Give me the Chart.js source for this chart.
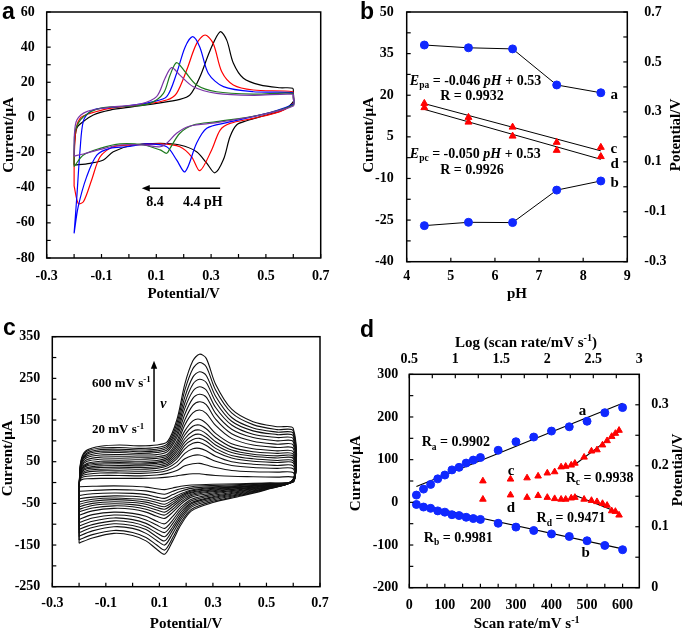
<!DOCTYPE html>
<html>
<head>
<meta charset="utf-8">
<script src="https://cdn.jsdelivr.net/npm/chart.js@4.4.1/dist/chart.umd.min.js"></script>
<style>
  html, body { margin: 0; padding: 0; background: #fff; }
  #wrap { position: relative; width: 685px; height: 629px; overflow: hidden; }
  canvas { position: absolute; }
</style>
</head>
<body>
<div id="wrap">
  <canvas id="cvA" width="340" height="310" style="left:0;top:0"></canvas>
  <canvas id="cvB" width="345" height="310" style="left:340px;top:0"></canvas>
  <canvas id="cvC" width="340" height="319" style="left:0;top:310px"></canvas>
  <canvas id="cvD" width="345" height="319" style="left:340px;top:310px"></canvas>
</div>
<script>
// ---- panel a: CVs at different pH, [potential / V, current / uA]
const cvPH44 = [[-0.2,-27],[-0.198,-14],[-0.19,-6],[-0.172,-3],[-0.13,1.4],[-0.069,4.2],[0.016,6.1],[0.101,8],[0.186,10.3],[0.223,12.8],[0.259,23],[0.296,38],[0.333,48.8],[0.357,44],[0.381,31],[0.418,22.3],[0.478,18.5],[0.551,16.9],[0.598,16.6],[0.6,14],[0.6,9],[0.563,4.2],[0.503,1.4],[0.43,-1.9],[0.393,-4.3],[0.369,-11],[0.345,-24],[0.314,-31.5],[0.284,-26],[0.247,-19.5],[0.186,-15.7],[0.114,-14.7],[0.016,-15.7],[-0.057,-19.5],[-0.093,-24.2],[-0.142,-26.1],[-0.19,-27],[-0.2,-27]];
const cvPH54 = [[-0.2,-39],[-0.199,-20],[-0.192,-6],[-0.175,0],[-0.142,2.3],[-0.069,5.2],[0.041,7.1],[0.138,9.9],[0.174,13.7],[0.211,27],[0.247,42],[0.278,46.9],[0.308,42],[0.339,26],[0.381,18.5],[0.454,15.6],[0.598,14.6],[0.6,12],[0.6,8],[0.551,3.3],[0.454,-0.5],[0.369,-3.4],[0.333,-7.2],[0.302,-18.5],[0.259,-30.3],[0.229,-22.4],[0.186,-16.7],[0.114,-15.1],[0.016,-15.7],[-0.057,-16.7],[-0.105,-22.4],[-0.136,-35.6],[-0.166,-48],[-0.185,-48.9],[-0.2,-39]];
const cvPH64 = [[-0.2,-66],[-0.19,-45],[-0.178,-18],[-0.166,-2],[-0.14,3.5],[-0.105,5.2],[-0.008,6.5],[0.089,9],[0.138,11.8],[0.174,25],[0.205,40],[0.233,46],[0.259,40],[0.29,25],[0.345,17.5],[0.454,14.6],[0.598,14.1],[0.6,12],[0.6,7.6],[0.503,2.3],[0.357,-3],[0.284,-6.2],[0.247,-14.7],[0.205,-30.9],[0.174,-24.2],[0.138,-16.7],[0.065,-15.1],[-0.008,-16.7],[-0.069,-17.6],[-0.117,-21.4],[-0.154,-33.7],[-0.185,-50.8],[-0.2,-66]];
const cvPH74 = [[-0.2,-28],[-0.199,-15],[-0.195,-7],[-0.166,0.4],[-0.105,5.2],[0.016,6.5],[0.077,8],[0.126,13.7],[0.15,24],[0.174,31.2],[0.205,26],[0.247,18.5],[0.32,14.6],[0.454,13.3],[0.598,13.7],[0.6,11],[0.6,7.1],[0.478,1.4],[0.32,-2.4],[0.235,-4.3],[0.186,-9],[0.15,-17.6],[0.138,-20.4],[0.114,-18.5],[0.053,-15.7],[-0.032,-15.1],[-0.105,-17.6],[-0.166,-21.4],[-0.2,-28]];
const cvPH84 = [[-0.2,-22],[-0.199,-10],[-0.19,-1.5],[-0.154,3.3],[-0.069,5.8],[0.041,7.6],[0.101,11.8],[0.132,22.3],[0.156,28.3],[0.186,24.1],[0.235,17.5],[0.32,13.7],[0.454,12.6],[0.598,13.2],[0.6,11],[0.6,6.5],[0.478,1.4],[0.32,-3],[0.223,-4.9],[0.174,-9],[0.138,-14.7],[0.114,-16.7],[0.053,-15.7],[-0.032,-15.7],[-0.105,-18.2],[-0.166,-20.8],[-0.2,-22]];

// ---- panel b: peak current and potential vs pH
const phValues = [4.4, 5.4, 6.4, 7.4, 8.4];
const ipaPH = [38.1, 37.1, 36.7, 23.7, 20.9];
const ipcPH = [-27, -25.8, -25.9, -14.2, -10.9];
const epaPH = [0.334, 0.278, 0.239, 0.178, 0.158];
const epcPH = [0.317, 0.259, 0.203, 0.146, 0.121];
const phFitX = [4.4, 8.4];
const epaFitPH = [0.333, 0.144];
const epcFitPH = [0.31, 0.11];

// ---- panel c: CVs at scan rates 20..600 mV/s
const cFwdPotential = [-0.2, -0.198, -0.19, -0.17, -0.12, -0.05, 0.03, 0.09, 0.13, 0.165, 0.195, 0.225, 0.25, 0.275, 0.31, 0.37, 0.45, 0.54, 0.6];
const cRevPotential = [0.6, 0.5, 0.4, 0.3, 0.22, 0.18, 0.15, 0.12, 0.09, 0.05, 0, -0.07, -0.15, -0.198, -0.2];
const cFwdCurrent = [
  [-10, 2, 7, 9, 10, 10, 10, 11, 13, 16, 19, 21, 21, 19, 17, 15, 14, 13, 13],
  [-22, 4, 12, 15, 17, 17, 16, 18, 22, 29, 40, 45, 46, 42, 36, 29, 26, 25, 24],
  [-32, 5, 16, 20, 23, 23, 22, 24, 29, 40, 57, 65, 66, 61, 51, 41, 36, 34, 33],
  [-40, 6, 19, 25, 28, 28, 27, 29, 35, 49, 70, 81, 82, 76, 63, 50, 44, 41, 40],
  [-48, 7, 22, 29, 32, 33, 32, 34, 40, 57, 81, 94, 96, 89, 74, 59, 51, 48, 47],
  [-54, 8, 25, 33, 36, 37, 36, 38, 44, 62, 89, 103, 106, 99, 82, 65, 57, 53, 52],
  [-60, 9, 28, 36, 40, 41, 40, 42, 48, 68, 97, 113, 116, 108, 90, 72, 63, 59, 58],
  [-66, 10, 31, 40, 44, 45, 44, 46, 52, 74, 105, 123, 126, 117, 98, 78, 68, 64, 63],
  [-72, 11, 33, 43, 47, 48, 47, 49, 56, 80, 114, 135, 138, 129, 108, 85, 74, 70, 68],
  [-80, 12, 35, 46, 51, 52, 51, 53, 60, 86, 124, 148, 152, 142, 118, 93, 81, 76, 74],
  [-90, 13, 39, 51, 56, 57, 56, 58, 64, 92, 138, 167, 174, 166, 137, 106, 90, 84, 82],
  [-98, 14, 42, 55, 61, 62, 61, 62, 68, 99, 150, 185, 194, 187, 152, 117, 99, 92, 90],
  [-106, 15, 46, 60, 66, 67, 66, 67, 74, 108, 164, 202, 212, 205, 166, 128, 108, 100, 98],
  [-114, 16, 49, 64, 71, 72, 70, 72, 79, 116, 178, 219, 230, 222, 180, 138, 116, 108, 105],
  [-122, 17, 52, 68, 75, 76, 74, 76, 84, 124, 191, 236, 248, 240, 194, 147, 124, 115, 112],
  [-130, 18, 54, 71, 79, 80, 78, 80, 88, 132, 205, 253, 266, 257, 207, 156, 131, 121, 118],
  [-138, 19, 57, 75, 83, 84, 82, 84, 93, 141, 221, 273, 288, 278, 222, 167, 139, 127, 124],
  [-146, 20, 60, 78, 87, 90, 88, 90, 98, 150, 236, 292, 308, 298, 236, 176, 146, 134, 130]
];
const cRevCurrent = [
  [1, -1, -3, -4, -6, -9, -13, -17, -15, -11, -9, -8, -9, -10, -10],
  [2, -2, -5, -7, -10, -15, -21, -28, -25, -20, -18, -17, -19, -21, -22],
  [2, -3, -7, -10, -14, -21, -29, -38, -35, -29, -26, -25, -27, -31, -32],
  [3, -4, -9, -12, -18, -27, -37, -45, -42, -36, -33, -32, -35, -39, -40],
  [3, -5, -10, -14, -20, -31, -42, -52, -48, -42, -39, -37, -40, -46, -48],
  [3, -6, -11, -16, -23, -34, -47, -58, -54, -47, -43, -41, -45, -52, -54],
  [3, -6, -12, -18, -25, -38, -52, -64, -60, -52, -48, -46, -50, -58, -60],
  [4, -7, -14, -20, -28, -42, -58, -71, -66, -58, -53, -51, -55, -64, -66],
  [4, -8, -15, -22, -31, -47, -64, -78, -73, -64, -58, -56, -61, -70, -72],
  [4, -9, -17, -25, -35, -52, -71, -86, -81, -71, -64, -62, -68, -78, -80],
  [5, -10, -19, -28, -40, -59, -81, -99, -93, -81, -74, -71, -77, -88, -90],
  [5, -11, -21, -31, -44, -65, -90, -110, -102, -90, -81, -78, -85, -96, -98],
  [6, -12, -23, -34, -48, -71, -98, -120, -112, -98, -89, -85, -93, -104, -106],
  [6, -13, -25, -36, -51, -77, -106, -130, -121, -106, -96, -92, -101, -112, -114],
  [7, -14, -27, -39, -55, -83, -113, -140, -130, -113, -103, -99, -108, -120, -122],
  [7, -15, -29, -42, -59, -89, -122, -150, -139, -122, -110, -106, -116, -128, -130],
  [8, -16, -31, -45, -64, -96, -132, -162, -150, -132, -120, -115, -125, -137, -138],
  [8, -17, -33, -48, -68, -102, -140, -172, -160, -140, -127, -122, -133, -145, -146]
];

// ---- panel d: peak current vs scan rate, peak potential vs log(scan rate)
const scanRates = [20, 40, 60, 80, 100, 120, 140, 160, 180, 200, 250, 300, 350, 400, 450, 500, 550, 600];
const logScanRates = [1.30, 1.60, 1.78, 1.90, 2.00, 2.08, 2.15, 2.20, 2.26, 2.30, 2.40, 2.48, 2.54, 2.60, 2.65, 2.70, 2.74, 2.78];
const ipaRate = [17, 31, 42, 55, 64, 76, 82, 92, 99, 105, 122, 142, 153, 167, 177, 190, 210, 222];
const ipcRate = [-5, -11, -14, -20, -23, -29, -31, -35, -38, -40, -49, -58, -66, -74, -80, -90, -101, -111];
const epaRate = [0.175, 0.178, 0.180, 0.183, 0.188, 0.190, 0.198, 0.199, 0.201, 0.204, 0.214, 0.224, 0.226, 0.234, 0.241, 0.248, 0.253, 0.258];
const epcRate = [0.145, 0.152, 0.148, 0.151, 0.148, 0.146, 0.145, 0.145, 0.147, 0.148, 0.145, 0.143, 0.141, 0.138, 0.135, 0.126, 0.125, 0.119];
const rateFitX = [20, 600];
const ipaFit = [37, 232];
const ipcFit = [-4, -109];
const logFitXc = [2.30, 2.80];
const epaFitLog = [0.202, 0.2585];
const logFitXd = [2.30, 2.78];
const epcFitLog = [0.1515, 0.123];

const SERIF = '"Liberation Serif", "Times New Roman", serif';
const TICK_FONT = { family: SERIF, size: 14, weight: 'bold' };
const BLUE = '#1028ff';
const RED = '#ff0000';

Chart.defaults.animation = false;
Chart.defaults.events = [];
Chart.defaults.color = '#000';
Chart.defaults.plugins.legend.display = false;
Chart.defaults.plugins.tooltip.enabled = false;

const pairs = arr => arr.map(([x, y]) => ({ x, y }));
const zip = (xs, ys) => xs.map((x, i) => ({ x, y: ys[i] }));

function drawRich(ctx, parts, x, y, size, align) {
  const fontFor = k => {
    const s = (k === 'b' || k === 'p') ? size * 0.68 : size;
    return (k === 'i' ? 'italic ' : '') + 'bold ' + s + 'px ' + SERIF;
  };
  let w = 0;
  parts.forEach(([t, k]) => { ctx.font = fontFor(k); w += ctx.measureText(t).width; });
  let cx = align === 'center' ? x - w / 2 : (align === 'right' ? x - w : x);
  ctx.textAlign = 'left';
  ctx.textBaseline = 'alphabetic';
  ctx.fillStyle = '#000';
  const base = y + size * 0.33;
  parts.forEach(([t, k]) => {
    ctx.font = fontFor(k);
    const dy = k === 'b' ? size * 0.25 : (k === 'p' ? -size * 0.38 : 0);
    ctx.fillText(t, cx, base + dy);
    cx += ctx.measureText(t).width;
  });
}

function drawTitle(ctx, parts, x, y, rotate) {
  ctx.save();
  ctx.translate(x, y);
  if (rotate) ctx.rotate(-Math.PI / 2);
  drawRich(ctx, parts, 0, 0, 15, 'center');
  ctx.restore();
}

function drawLetter(ctx, t, x, y) {
  ctx.save();
  ctx.font = 'bold 23px "Liberation Sans", Arial, sans-serif';
  ctx.fillStyle = '#000';
  ctx.textAlign = 'left';
  ctx.textBaseline = 'alphabetic';
  ctx.fillText(t, x, y);
  ctx.restore();
}

function drawArrow(ctx, x1, y1, x2, y2) {
  const ang = Math.atan2(y2 - y1, x2 - x1);
  ctx.save();
  ctx.strokeStyle = '#000';
  ctx.fillStyle = '#000';
  ctx.lineWidth = 1.5;
  ctx.beginPath();
  ctx.moveTo(x1, y1);
  ctx.lineTo(x2 - 6 * Math.cos(ang), y2 - 6 * Math.sin(ang));
  ctx.stroke();
  ctx.beginPath();
  ctx.moveTo(x2, y2);
  ctx.lineTo(x2 - 8 * Math.cos(ang) + 3.2 * Math.sin(ang), y2 - 8 * Math.sin(ang) - 3.2 * Math.cos(ang));
  ctx.lineTo(x2 - 8 * Math.cos(ang) - 3.2 * Math.sin(ang), y2 - 8 * Math.sin(ang) + 3.2 * Math.cos(ang));
  ctx.closePath();
  ctx.fill();
  ctx.restore();
}

// box around the plot plus inward tick marks (majors and midpoints)
const framePlugin = {
  id: 'frame',
  afterDatasetsDraw(chart, args, opts) {
    const { ctx, chartArea: a } = chart;
    const minor = opts.minor || [];
    ctx.save();
    ctx.strokeStyle = '#000';
    ctx.lineWidth = 1.5;
    ctx.strokeRect(a.left, a.top, a.right - a.left, a.bottom - a.top);
    ctx.lineWidth = 1.2;
    Object.values(chart.scales).forEach(scale => {
      const majors = scale.ticks.map(t => t.value);
      const vals = majors.slice();
      if (minor.includes(scale.id)) {
        for (let i = 0; i < majors.length - 1; i++) vals.push((majors[i] + majors[i + 1]) / 2);
      }
      vals.forEach(v => {
        const p = scale.getPixelForValue(v);
        const L = 4;
        ctx.beginPath();
        if (scale.position === 'left') { ctx.moveTo(a.left, p); ctx.lineTo(a.left + L, p); }
        else if (scale.position === 'right') { ctx.moveTo(a.right, p); ctx.lineTo(a.right - L, p); }
        else if (scale.position === 'top') { ctx.moveTo(p, a.top); ctx.lineTo(p, a.top + L); }
        else { ctx.moveTo(p, a.bottom); ctx.lineTo(p, a.bottom - L); }
        ctx.stroke();
      });
    });
    ctx.restore();
  }
};
Chart.register(framePlugin);

function axis(position, min, max, step, size, pad, fmt, tickExtra) {
  const vertical = position === 'left' || position === 'right';
  return {
    type: 'linear',
    position,
    min,
    max,
    grid: { display: false, drawTicks: false },
    border: { display: false },
    ticks: Object.assign({
      stepSize: step, padding: pad, color: '#000', font: TICK_FONT,
      autoSkip: false, maxRotation: 0, callback: fmt
    }, tickExtra || {}),
    afterFit: s => {
      if (vertical) s.width = size; else s.height = size;
      // the plot box is fixed by hand, so label overhang must not push it
      s.paddingTop = 0; s.paddingBottom = 0; s.paddingLeft = 0; s.paddingRight = 0;
    }
  };
}

const fmt1 = v => v.toFixed(1);
const fmtInt = v => String(Math.round(v));
const fmtShort = v => String(+v.toFixed(2));

function cvLine(data, color, width, tension) {
  return { data, showLine: true, borderColor: color, borderWidth: width, pointRadius: 0, tension, fill: false };
}

// ================= panel a =================
new Chart(document.getElementById('cvA'), {
  type: 'scatter',
  data: {
    datasets: [
      cvLine(pairs(cvPH84), '#7a35a8', 1.2, 0.3),
      cvLine(pairs(cvPH74), '#1e7a1e', 1.2, 0.3),
      cvLine(pairs(cvPH64), '#0000ff', 1.2, 0.3),
      cvLine(pairs(cvPH54), '#ff0000', 1.2, 0.3),
      cvLine(pairs(cvPH44), '#000000', 1.2, 0.3)
    ]
  },
  options: {
    responsive: false,
    layout: { padding: { top: 12, right: 19.3, left: 0, bottom: 0 } },
    scales: {
      x: axis('bottom', -0.3, 0.7, 0.2, 52, 9.6, fmt1),
      y: axis('left', -80, 60, 20, 46.7, 12, fmtInt)
    },
    plugins: { frame: { minor: ['x', 'y'] } }
  },
  plugins: [{
    id: 'notesA',
    afterDraw(chart) {
      const { ctx, scales: { x, y } } = chart;
      drawArrow(ctx, x.getPixelForValue(0.333), y.getPixelForValue(-40.3), x.getPixelForValue(0.047), y.getPixelForValue(-40.3));
      drawRich(ctx, [['8.4']], x.getPixelForValue(0.095), y.getPixelForValue(-48), 14, 'center');
      drawRich(ctx, [['4.4']], x.getPixelForValue(0.229), y.getPixelForValue(-48), 14, 'center');
      drawRich(ctx, [['pH']], x.getPixelForValue(0.308), y.getPixelForValue(-48), 14, 'center');
      drawTitle(ctx, [['Potential/V']], 183.7, 293, false);
      drawTitle(ctx, [['Current/μA']], 8, 135, true);
      drawLetter(ctx, 'a', 2, 19);
    }
  }]
});

// ================= panel b =================
new Chart(document.getElementById('cvB'), {
  type: 'scatter',
  data: {
    datasets: [
      { data: zip(phValues, epaPH), yAxisID: 'y2', showLine: false, pointStyle: 'triangle', pointRadius: 4, backgroundColor: RED, borderColor: RED },
      { data: zip(phValues, epcPH), yAxisID: 'y2', showLine: false, pointStyle: 'triangle', pointRadius: 4, backgroundColor: RED, borderColor: RED },
      { data: zip(phValues, ipaPH), yAxisID: 'y', showLine: true, borderColor: '#000', borderWidth: 1, pointRadius: 4, pointBackgroundColor: BLUE, pointBorderColor: BLUE },
      { data: zip(phValues, ipcPH), yAxisID: 'y', showLine: true, borderColor: '#000', borderWidth: 1, pointRadius: 4, pointBackgroundColor: BLUE, pointBorderColor: BLUE },
      { data: zip(phFitX, epaFitPH), yAxisID: 'y2', showLine: true, borderColor: '#000', borderWidth: 1, pointRadius: 0 },
      { data: zip(phFitX, epcFitPH), yAxisID: 'y2', showLine: true, borderColor: '#000', borderWidth: 1, pointRadius: 0 }
    ]
  },
  options: {
    responsive: false,
    layout: { padding: { top: 12, right: 0, left: 0, bottom: 0 } },
    scales: {
      x: axis('bottom', 4, 9, 1, 48.3, 6, fmtInt),
      y: axis('left', -40, 50, 15, 66.7, 13, fmtInt),
      y2: axis('right', -0.3, 0.7, 0.2, 57.7, 17, fmt1)
    },
    plugins: { frame: { minor: ['y', 'y2'] } }
  },
  plugins: [{
    id: 'notesB',
    afterDraw(chart) {
      const { ctx, scales: { x, y } } = chart;
      const px = v => x.getPixelForValue(v);
      const py = v => y.getPixelForValue(v);
      drawRich(ctx, [['a']], px(8.62), py(20.6), 15, 'left');
      drawRich(ctx, [['b']], px(8.62), py(-11.4), 15, 'left');
      drawRich(ctx, [['c']], px(8.62), py(0.8), 15, 'left');
      drawRich(ctx, [['d']], px(8.62), py(-4.3), 15, 'left');
      drawRich(ctx, [['E', 'i'], ['pa', 'b'], [' = -0.046 '], ['pH', 'i'], [' + 0.53']], px(4.07), py(25.5), 14, 'left');
      drawRich(ctx, [['R = 0.9932']], px(5.48), py(19.8), 14, 'center');
      drawRich(ctx, [['E', 'i'], ['pc', 'b'], [' = -0.050 '], ['pH', 'i'], [' + 0.53']], px(4.07), py(-0.9), 14, 'left');
      drawRich(ctx, [['R = 0.9926']], px(5.48), py(-6.7), 14, 'center');
      drawTitle(ctx, [['pH']], 177, 293, false);
      drawTitle(ctx, [['Current/μA']], 28.3, 135, true);
      drawTitle(ctx, [['Potential/V']], 335, 135, true);
      drawLetter(ctx, 'b', 20, 19);
    }
  }]
});

// ================= panel c =================
const cDatasets = cFwdCurrent.map((fwd, k) => cvLine(
  zip(cFwdPotential, fwd).concat(zip(cRevPotential, cRevCurrent[k])), '#111', 1.1, 0.3
));
new Chart(document.getElementById('cvC'), {
  type: 'scatter',
  data: { datasets: cDatasets },
  options: {
    responsive: false,
    layout: { padding: { top: 26.7, right: 20, left: 0, bottom: 0 } },
    scales: {
      x: axis('bottom', -0.3, 0.7, 0.2, 42.3, 8.2, fmt1),
      y: axis('left', -250, 350, 100, 52.3, 12, fmtInt)
    },
    plugins: { frame: { minor: ['x', 'y'] } }
  },
  plugins: [{
    id: 'notesC',
    afterDraw(chart) {
      const { ctx, scales: { x, y } } = chart;
      drawArrow(ctx, x.getPixelForValue(0.08), y.getPixelForValue(98), x.getPixelForValue(0.08), y.getPixelForValue(292));
      drawRich(ctx, [['600 mV s'], ['-1', 'p']], x.getPixelForValue(-0.152), y.getPixelForValue(240), 13, 'left');
      drawRich(ctx, [['20 mV s'], ['-1', 'p']], x.getPixelForValue(-0.152), y.getPixelForValue(128), 13, 'left');
      drawRich(ctx, [['v', 'i']], x.getPixelForValue(0.115), y.getPixelForValue(190), 14, 'center');
      drawTitle(ctx, [['Potential/V']], 186, 313.3, false);
      drawTitle(ctx, [['Current/μA']], 7.5, 148.3, true);
      drawLetter(ctx, 'c', 3, 25);
    }
  }]
});

// ================= panel d =================
new Chart(document.getElementById('cvD'), {
  type: 'scatter',
  data: {
    datasets: [
      { data: zip(scanRates, ipaRate), xAxisID: 'x', yAxisID: 'y', showLine: false, pointRadius: 4, backgroundColor: BLUE, borderColor: BLUE },
      { data: zip(scanRates, ipcRate), xAxisID: 'x', yAxisID: 'y', showLine: false, pointRadius: 4, backgroundColor: BLUE, borderColor: BLUE },
      { data: zip(logScanRates, epaRate), xAxisID: 'x2', yAxisID: 'y2', showLine: false, pointStyle: 'triangle', pointRadius: 3.8, backgroundColor: RED, borderColor: RED },
      { data: zip(logScanRates, epcRate), xAxisID: 'x2', yAxisID: 'y2', showLine: false, pointStyle: 'triangle', pointRadius: 3.8, backgroundColor: RED, borderColor: RED },
      { data: zip(rateFitX, ipaFit), xAxisID: 'x', yAxisID: 'y', showLine: true, borderColor: '#000', borderWidth: 1.1, pointRadius: 0 },
      { data: zip(rateFitX, ipcFit), xAxisID: 'x', yAxisID: 'y', showLine: true, borderColor: '#000', borderWidth: 1.1, pointRadius: 0 },
      { data: zip(logFitXc, epaFitLog), xAxisID: 'x2', yAxisID: 'y2', showLine: true, borderColor: '#000', borderWidth: 1.1, pointRadius: 0 },
      { data: zip(logFitXd, epcFitLog), xAxisID: 'x2', yAxisID: 'y2', showLine: true, borderColor: '#000', borderWidth: 1.1, pointRadius: 0 }
    ]
  },
  options: {
    responsive: false,
    layout: { padding: 0 },
    scales: {
      x: axis('bottom', 0, 647, 100, 41.3, 8.9, fmtInt, { includeBounds: false }),
      x2: axis('top', 0.5, 3, 0.5, 64.3, 6.6, fmtShort),
      y: axis('left', -200, 300, 100, 69.3, 11, fmtInt),
      y2: axis('right', 0, 0.35, 0.1, 45.7, 12, fmtShort, { includeBounds: false })
    },
    plugins: { frame: { minor: ['x', 'x2', 'y', 'y2'] } }
  },
  plugins: [{
    id: 'notesD',
    afterDraw(chart) {
      const { ctx, scales: { x, y } } = chart;
      const px = v => x.getPixelForValue(v);
      const py = v => y.getPixelForValue(v);
      drawRich(ctx, [['a']], px(487), py(216), 15, 'center');
      drawRich(ctx, [['b']], px(496), py(-117), 15, 'center');
      drawRich(ctx, [['c']], px(286), py(76), 15, 'center');
      drawRich(ctx, [['d']], px(286), py(-10), 15, 'center');
      drawRich(ctx, [['R'], ['a', 'b'], [' = 0.9902']], px(35), py(142), 14, 'left');
      drawRich(ctx, [['R'], ['c', 'b'], [' = 0.9938']], px(440), py(59), 14, 'left');
      drawRich(ctx, [['R'], ['d', 'b'], [' = 0.9471']], px(358), py(-36), 14, 'left');
      drawRich(ctx, [['R'], ['b', 'b'], [' = 0.9981']], px(41), py(-81), 14, 'left');
      drawTitle(ctx, [['Scan rate/mV s'], ['-1', 'p']], 186.7, 313.3, false);
      drawTitle(ctx, [['Log (scan rate/mV s'], ['-1', 'p'], [')']], 186, 31.7, false);
      drawTitle(ctx, [['Current/μA']], 15, 163.3, true);
      drawTitle(ctx, [['Potential/V']], 336.7, 160, true);
      drawLetter(ctx, 'd', 20, 27);
    }
  }]
});
</script>
</body>
</html>
